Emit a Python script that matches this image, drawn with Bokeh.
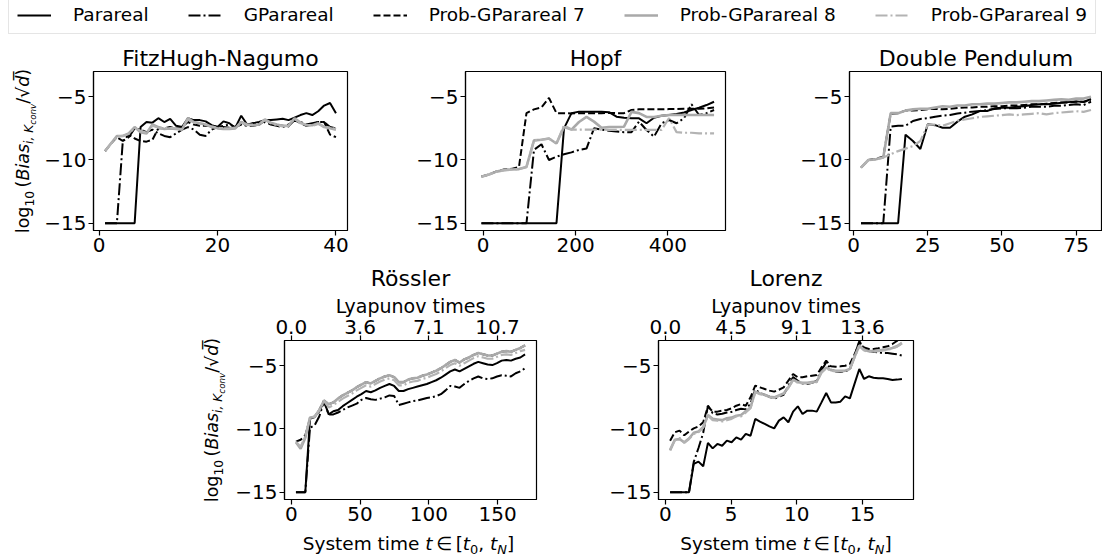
import numpy as np
from bokeh.plotting import figure
from bokeh.models import Range1d, FixedTicker, LinearAxis, Legend, LegendItem, Spacer, Plot
from bokeh.core.properties import value
from bokeh.layouts import column, row
from bokeh.embed import file_html
from bokeh.resources import INLINE

FONT = "DejaVu Sans"
HAS_FRAME_ALIGN = "frame_align" in Plot.properties()

series_names = ["Parareal", "GParareal", "Prob-GParareal 7", "Prob-GParareal 8", "Prob-GParareal 9"]

# ---------------- FitzHugh-Nagumo ----------------
fhn_t = np.arange(1, 41)
fhn_para = [-15, -15, -15, -15, -15, -15, -7.4, -7.0, -7.05, -6.7,
            -7.0, -6.75, -7.3, -7.4, -6.7, -6.85, -6.85, -6.95, -7.25, -7.4,
            -6.95, -7.1, -7.45, -6.5, -7.2, -7.1, -7.0, -6.85, -6.85, -6.8,
            -6.75, -6.85, -6.65, -6.45, -6.3, -6.45, -6.15, -5.7, -5.5, -6.3]
fhn_gp = [-15, -15, -15, -8.5, -8.2, -7.5, -7.6, -7.8, -7.6, -7.9,
          -8.1, -8.2, -7.9, -7.6, -7.4, -7.6, -8.0, -8.1, -7.6, -7.4,
          -7.3, -7.2, -7.4, -7.2, -7.3, -7.1, -7.2, -7.0, -7.2, -7.3,
          -7.4, -7.2, -6.9, -7.0, -7.2, -7.1, -7.0, -7.0, -7.4, -7.5]
fhn_p7 = [-9.3, -8.7, -8.2, -8.5, -8.0, -8.3, -8.5, -8.55, -8.4, -7.5,
          -7.5, -7.4, -7.5, -7.4, -7.0, -7.2, -7.3, -7.3, -7.3, -7.4,
          -7.4, -7.45, -7.4, -7.0, -7.3, -7.3, -7.2, -6.9, -7.1, -7.25,
          -7.3, -7.35, -6.8, -7.1, -7.3, -7.2, -7.0, -7.0, -8.0, -8.2]
fhn_p8 = [-9.3, -8.7, -8.1, -8.1, -7.9, -7.4, -7.8, -7.9, -7.2, -7.4,
          -7.55, -7.5, -7.55, -7.6, -6.7, -7.0, -7.1, -7.2, -7.4, -7.5,
          -7.55, -7.55, -7.5, -7.0, -7.2, -7.25, -7.2, -6.8, -7.05, -7.2,
          -7.3, -7.3, -6.7, -7.05, -7.25, -7.25, -7.1, -7.4, -7.5, -7.6]
fhn_p9 = [-9.3, -8.7, -8.15, -8.1, -7.95, -7.45, -7.7, -7.85, -7.3, -7.45,
          -7.5, -7.45, -7.5, -7.55, -6.8, -7.05, -7.15, -7.2, -7.35, -7.45,
          -7.5, -7.5, -7.45, -7.05, -7.25, -7.2, -7.15, -6.85, -7.1, -7.25,
          -7.35, -7.3, -6.75, -7.1, -7.2, -7.3, -7.15, -7.35, -7.45, -7.55]

# ---------------- Hopf ----------------
hopf_t = np.linspace(-20, 500, 33)[1:]
hopf_para = [-15] * 11 + [-7.5, -6.3, -6.18, -6.18, -6.18, -6.18, -6.22, -6.58, -6.66, -6.7,
                          -6.71, -7.1, -6.66, -6.5, -6.45, -6.37, -6.25, -6.05, -5.87, -5.66, -5.4]
hopf_gp = [-15] * 7 + [-9.2, -8.76, -10.0, -9.74, -9.55, -9.4, -9.2, -9.1, -7.5, -7.6,
                       -7.7, -7.75, -7.8, -7.8, -6.97, -7.63, -8.16, -7.1, -6.84, -7.1,
                       -6.7, -5.6, -6.45, -6.3, -6.05]
hopf_p7 = [-11.3, -11.15, -10.9, -10.75, -10.7, -10.55, -6.3, -6.0, -5.85, -5.1,
           -6.3, -6.3, -6.32, -6.3, -6.3, -6.3, -6.3, -6.28, -6.3, -6.3,
           -6.05, -6.0, -6.0, -6.0, -6.0, -5.98, -5.98, -5.96, -5.95, -5.95, -5.92, -5.85]
hopf_p8 = [-11.32, -11.15, -10.92, -10.8, -10.75, -10.72, -10.55, -8.45, -8.4, -8.3,
           -8.7, -7.4, -7.6, -7.0, -6.6, -6.97, -7.45, -7.4, -7.4, -7.37,
           -6.2, -6.3, -6.6, -6.6, -6.5, -6.45, -6.45, -6.45, -6.45, -6.45, -6.45, -6.45]
hopf_p9 = [-11.32, -11.15, -10.92, -10.8, -10.75, -10.72, -10.55, -8.45, -8.4, -8.3,
           -8.7, -7.25, -7.6, -7.6, -7.6, -7.6, -7.6, -7.62, -7.62, -7.62,
           -7.62, -7.62, -7.62, -7.62, -7.62, -6.7, -7.8, -7.85, -7.85, -7.9, -7.9, -7.9]

# ---------------- Double Pendulum ----------------
dp_t = np.linspace(0, 80, 33)[1:]
dp_para = [-15] * 6 + [-8.0, -8.5, -9.13, -7.18, -7.25, -7.45, -7.45, -6.97, -6.58, -6.4,
                       -6.13, -6.13, -5.92, -5.87, -5.87, -5.8, -5.75, -5.66, -5.6, -5.6,
                       -5.55, -5.47, -5.42, -5.37, -5.42, -5.18]
dp_gp = [-15] * 4 + [-7.37, -7.3, -7.3, -6.92, -6.76, -6.7, -6.58, -6.5, -6.45, -6.32,
                     -6.26, -6.18, -6.13, -6.05, -5.97, -5.92, -5.92, -5.92, -5.87, -5.79,
                     -5.79, -5.79, -5.72, -5.72, -5.66, -5.6, -5.66, -5.4]
dp_p7 = [-10.6, -10.0, -9.9, -9.75, -6.35, -6.3, -6.1, -6.1, -6.05, -6.0,
         -5.95, -6.0, -5.95, -5.9, -5.85, -5.85, -5.8, -5.8, -5.75, -5.75,
         -5.7, -5.7, -5.65, -5.6, -5.6, -5.55, -5.5, -5.45, -5.45, -5.4, -5.4, -5.3]
dp_p8 = [-10.6, -10.0, -9.95, -9.8, -6.3, -6.3, -6.1, -6.0, -5.95, -5.95,
         -5.85, -5.75, -5.8, -5.7, -5.7, -5.6, -5.6, -5.55, -5.55, -5.5,
         -5.45, -5.45, -5.4, -5.35, -5.35, -5.3, -5.25, -5.2, -5.25, -5.15, -5.15, -5.0]
dp_p9 = [-10.6, -10.0, -9.95, -9.8, -9.55, -9.3, -9.1, -8.9, -8.5, -7.2,
         -7.2, -7.3, -7.1, -6.9, -6.8, -6.7, -6.6, -6.55, -6.5, -6.45,
         -6.4, -6.45, -6.4, -6.35, -6.3, -6.4, -6.3, -6.25, -6.2, -6.15, -6.2, -6.05]

# ---------------- Rossler ----------------
ros_t = np.linspace(0, 170, 51)[1:]
ros_para = [-15, -15, -15, -9.2, -9.0, -8.6, -7.8, -8.85, -8.6, -8.5,
            -8.2, -7.95, -7.7, -7.45, -7.25, -7.0, -7.1, -6.95, -6.75, -6.6,
            -6.45, -6.6, -7.0, -7.0, -6.85, -6.75, -6.65, -6.55, -6.45, -6.3,
            -6.15, -5.95, -5.7, -5.45, -5.3, -5.45, -5.25, -5.05, -4.85, -4.7,
            -4.8, -4.9, -4.95, -4.8, -4.6, -4.55, -4.6, -4.45, -4.35, -4.1]
ros_gp = [-15, -15, -15, -9.9, -9.7, -9.0, -7.8, -8.85, -8.85, -8.7,
          -8.5, -8.3, -8.15, -8.0, -7.7, -7.55, -7.65, -7.7, -7.6, -7.5,
          -7.35, -7.4, -8.1, -8.0, -7.9, -7.8, -7.75, -7.65, -7.55, -7.5,
          -7.4, -7.25, -6.95, -6.6, -6.65, -6.75, -6.45, -6.2, -6.0, -5.85,
          -6.0, -6.05, -6.0, -5.85, -5.75, -5.8, -5.85, -5.6, -5.45, -5.2]
ros_p7 = [-11.0, -10.85, -10.5, -9.2, -9.05, -8.5, -7.75, -8.05, -7.9, -7.6,
          -7.35, -7.15, -6.95, -6.7, -6.5, -6.3, -6.4, -6.2, -6.0, -5.85,
          -5.75, -5.9, -6.3, -6.3, -6.1, -6.0, -5.95, -5.8, -5.7, -5.55,
          -5.4, -5.2, -4.95, -4.7, -4.55, -4.75, -4.5, -4.35, -4.15, -4.0,
          -4.1, -4.2, -4.2, -4.05, -3.9, -3.85, -3.9, -3.75, -3.6, -3.4]
ros_p8 = [-11.05, -11.55, -10.7, -9.1, -9.05, -8.5, -7.75, -8.05, -7.9, -7.6,
          -7.35, -7.15, -6.95, -6.7, -6.5, -6.3, -6.4, -6.2, -6.0, -5.85,
          -5.75, -5.9, -6.3, -6.3, -6.1, -6.0, -5.95, -5.8, -5.7, -5.55,
          -5.4, -5.2, -4.95, -4.7, -4.55, -4.75, -4.5, -4.35, -4.15, -4.0,
          -4.1, -4.2, -4.2, -4.05, -3.9, -3.85, -3.9, -3.75, -3.6, -3.4]
ros_p9 = [-11.0, -11.4, -10.6, -9.1, -9.0, -8.5, -7.8, -8.3, -8.1, -7.85,
          -7.6, -7.4, -7.2, -6.95, -6.75, -6.55, -6.65, -6.45, -6.25, -6.1,
          -6.0, -6.15, -6.55, -6.55, -6.35, -6.25, -6.2, -6.05, -5.95, -5.8,
          -5.65, -5.45, -5.2, -4.95, -4.8, -5.0, -4.8, -4.6, -4.4, -4.25,
          -4.35, -4.45, -4.45, -4.3, -4.15, -4.1, -4.15, -4.0, -3.85, -3.75]

# ---------------- Lorenz ----------------
lor_t = np.linspace(0, 18, 51)[1:]
lor_para = [-15, -15, -15, -15, -15, -12.76, -12.58, -12.95, -11.1, -11.53,
            -11.18, -11.32, -10.92, -11.05, -10.66, -10.84, -10.39, -10.53, -9.21, -9.42,
            -9.6, -9.79, -9.95, -9.34, -9.08, -9.47, -8.63, -8.21, -8.82, -8.55,
            -8.55, -8.63, -7.9, -7.16, -7.9, -7.9, -7.84, -7.42, -7.58, -6.42,
            -5.26, -6.05, -5.84, -5.95, -6.0, -6.0, -6.05, -6.13, -6.1, -6.05]
lor_gp = [-15, -15, -15, -15, -15, -12.6, -11.5, -10.3, -8.15, -8.75,
          -8.85, -8.8, -8.7, -8.65, -8.5, -8.4, -8.45, -8.0, -6.9, -7.15,
          -7.3, -7.45, -7.6, -7.45, -7.3, -6.6, -5.9, -6.2, -6.4, -6.45,
          -6.35, -6.2, -5.35, -4.75, -5.3, -5.45, -5.5, -5.45, -5.3, -4.2,
          -3.05, -3.65, -3.85, -3.9, -3.95, -4.0, -4.0, -4.05, -4.1, -4.2]
lor_p7 = [-10.92, -10.26, -10.13, -10.5, -10.2, -9.95, -9.8, -9.47, -8.21, -8.63,
          -8.63, -8.55, -8.5, -8.37, -8.16, -8.03, -8.16, -7.5, -6.58, -6.71,
          -6.84, -6.97, -7.05, -6.9, -6.71, -6.18, -5.66, -5.92, -5.92, -5.84,
          -5.79, -5.74, -5.13, -4.6, -5.05, -5.08, -5.05, -5.0, -4.87, -4.1,
          -3.16, -3.55, -3.68, -3.68, -3.63, -3.55, -3.47, -3.29, -3.03, -2.9]
lor_p8 = [-11.7, -10.85, -10.8, -11.05, -10.75, -10.3, -10.2, -9.85, -8.9, -9.2,
          -9.25, -9.3, -9.15, -9.1, -8.95, -8.9, -8.6, -8.3, -7.05, -7.2,
          -7.3, -7.45, -7.5, -7.35, -7.2, -6.7, -6.1, -6.3, -6.35, -6.35,
          -6.3, -6.25, -5.5, -5.15, -5.35, -5.4, -5.4, -5.4, -5.25, -4.3,
          -3.4, -3.75, -3.85, -3.85, -3.8, -3.75, -3.7, -3.6, -3.45, -3.2]
lor_p9 = [-11.6, -10.9, -10.7, -11.1, -10.8, -10.4, -10.25, -9.9, -8.95, -9.3,
          -9.35, -9.4, -9.3, -9.2, -9.0, -9.0, -8.7, -8.35, -7.1, -7.25,
          -7.35, -7.5, -7.55, -7.4, -7.25, -6.75, -6.15, -6.35, -6.4, -6.4,
          -6.35, -6.3, -5.55, -5.2, -5.4, -5.45, -5.45, -5.45, -5.3, -4.35,
          -3.45, -3.8, -3.9, -3.9, -3.85, -3.8, -3.75, -3.65, -3.5, -3.25]

y_ticks = [-15, -10, -5]
y_tick_labels = {-15: "\u221215", -10: "\u221210", -5: "\u22125"}
ros_top_ticks = [0, 50, 100, 150]
ros_top_labels = ["0.0", "3.6", "7.1", "10.7"]
lor_top_ticks = [0, 5, 10, 15]
lor_top_labels = ["0.0", "4.5", "9.1", "13.6"]

STYLES = [
    dict(line_color="black", line_width=2.0, line_dash="solid"),
    dict(line_color="black", line_width=2.0, line_dash="12 3 2 3"),
    dict(line_color="black", line_width=2.0, line_dash="7 3"),
    dict(line_color="#a9a9a9", line_width=2.6, line_dash="solid"),
    dict(line_color="#b3b3b3", line_width=2.2, line_dash="12 3 2 3"),
]

# DejaVu Sans advance widths (em) used to compose math-like labels from text pieces
ADV = {" ": 0.318, "(": 0.390, ")": 0.390, ",": 0.318, "/": 0.337, "[": 0.390, "]": 0.390,
       "0": 0.636, "1": 0.636, "B": 0.686, "K": 0.656, "N": 0.748, "S": 0.635,
       "a": 0.613, "c": 0.550, "d": 0.635, "e": 0.615, "g": 0.635, "i": 0.278,
       "l": 0.278, "m": 0.974, "n": 0.634, "o": 0.612, "s": 0.521, "t": 0.392,
       "v": 0.592, "y": 0.592, "\u2208": 0.85, "\u221a": 0.636, "\u2009": 0.2, "\u0305": 0.0}
MID = 0.346  # distance from baseline to the vertical middle of the text box, in em


def text_w(s, size):
    return sum(ADV.get(ch, 0.6) for ch in s) * size


FY = 17.5
YLABEL_PIECES = [("log", FY, False, 0), ("10", 0.7 * FY, False, 0.24 * FY), ("\u2009(", FY, False, 0),
                 ("Bias", FY, True, 0), ("i, K", 0.7 * FY, True, 0.24 * FY),
                 ("conv", 0.5 * FY, True, 0.40 * FY), ("/", FY, False, 0), ("\u221a", FY, False, 0),
                 ("d\u0305", FY, True, 0), (")", FY, False, 0)]
F = 18.5
XLABEL_PIECES = [("System time ", F, False, 0), ("t", F, True, 0), ("\u2009\u2208\u2009[", F, False, 0),
                 ("t", F, True, 0), ("0", 0.7 * F, False, 0.22 * F), (", ", F, False, 0),
                 ("t", F, True, 0), ("N", 0.7 * F, True, 0.22 * F), ("]", F, False, 0)]


def compose(p, pieces, base, center, vertical):
    """Place text pieces (centre-anchored) along a line; figure data units equal pixels."""
    total = sum(text_w(t, s) for t, s, _, _ in pieces)
    pos = center - total / 2.0
    for txt, size, italic, shift in pieces:
        w = text_w(txt, size)
        mid = pos + w / 2.0
        if vertical:
            x, y, ang = base - MID * size + shift, mid, np.pi / 2
        else:
            x, y, ang = mid, base + MID * size - shift, 0.0
        p.text(x=[x], y=[y], text=[txt], angle=ang, text_font=value(FONT),
               text_font_size=value("%.2fpx" % size),
               text_font_style=value("italic" if italic else "normal"),
               text_color="black", text_align="center", text_baseline="middle")
        pos += w


def no_align(f):
    if HAS_FRAME_ALIGN:
        f.frame_align = False


def label_fig(width, height):
    f = figure(width=width, height=height, x_range=Range1d(0, width), y_range=Range1d(0, height),
               output_backend="svg", toolbar_location=None, min_border=0, title=None,
               x_axis_location=None, y_axis_location=None)
    f.grid.visible = False
    f.outline_line_color = None
    no_align(f)
    return f


def style_axis(ax, ticks, labels):
    ax.ticker = FixedTicker(ticks=ticks)
    ax.major_label_overrides = labels
    ax.minor_tick_line_color = None
    ax.major_tick_out = 5
    ax.major_tick_in = 0
    ax.major_tick_line_color = "black"
    ax.major_tick_line_width = 1.2
    ax.axis_line_color = "black"
    ax.axis_line_width = 1.2
    ax.major_label_text_font = FONT
    ax.major_label_text_font_size = "20px"
    ax.major_label_text_color = "black"
    ax.major_label_standoff = 2
    ax.axis_label_text_font = FONT
    ax.axis_label_text_font_size = "19px"
    ax.axis_label_text_font_style = "normal"
    ax.axis_label_text_color = "black"
    ax.axis_label_standoff = 4


def make_panel(title, t, ys, xr, width, height, bl, br, bt, bb, xticks, top=None):
    p = figure(width=width, height=height, x_range=Range1d(*xr), y_range=Range1d(-15.57, -3.01),
               output_backend="svg", toolbar_location=None,
               min_border_left=bl, min_border_right=br, min_border_top=bt, min_border_bottom=bb)
    no_align(p)
    p.grid.visible = False
    p.outline_line_color = "black"
    p.outline_line_width = 1.2
    p.background_fill_color = "white"
    p.border_fill_color = "white"
    p.title.text = title
    p.title.align = "center"
    p.title.text_font = FONT
    p.title.text_font_size = "22px"
    p.title.text_font_style = "normal"
    p.title.text_color = "black"
    p.title.standoff = 2
    style_axis(p.xaxis[0], xticks, {})
    style_axis(p.yaxis[0], y_ticks, y_tick_labels)
    if top is not None:
        tt, tl = top
        ax = LinearAxis()
        style_axis(ax, tt, {k: v for k, v in zip(tt, tl)})
        ax.axis_label = "Lyapunov times"
        ax.axis_label_standoff = 0
        p.add_layout(ax, "above")
    for y, st in zip(ys, STYLES):
        p.line(x=list(t), y=y, **st)
    return p


# ---- top row ----
yl1 = label_fig(38, 224)
compose(yl1, YLABEL_PIECES, 29, 109.5, True)
f1 = make_panel("FitzHugh-Nagumo", fhn_t, [fhn_para, fhn_gp, fhn_p7, fhn_p8, fhn_p9],
                (-0.95, 41.95), 342, 224, 55, 33, 35, 30, [0, 20, 40])
f2 = make_panel("Hopf", hopf_t, [hopf_para, hopf_gp, hopf_p7, hopf_p8, hopf_p9],
                (-38.3, 524.8), 380, 224, 85, 35, 35, 30, [0, 200, 400])
f3 = make_panel("Double Pendulum", dp_t, [dp_para, dp_gp, dp_p7, dp_p8, dp_p9],
                (-1.375, 83.875), 342, 224, 89, 0, 35, 30, [0, 25, 50, 75])

# ---- bottom row ----
yl2 = label_fig(42, 270)
compose(yl2, YLABEL_PIECES, 28, 110.5, True)
f4 = make_panel("R\u00f6ssler", ros_t, [ros_para, ros_gp, ros_p7, ros_p8, ros_p9],
                (-4.93, 178.33), 368, 270, 48, 64, 80, 31, [0, 50, 100, 150],
                top=(ros_top_ticks, ros_top_labels))
f5 = make_panel("Lorenz", lor_t, [lor_para, lor_gp, lor_p7, lor_p8, lor_p9],
                (-0.522, 18.882), 502, 270, 58, 189, 80, 31, [0, 5, 10, 15],
                top=(lor_top_ticks, lor_top_labels))
xl = label_fig(1102, 27)
compose(xl, XLABEL_PIECES, 8, 408, False)
compose(xl, XLABEL_PIECES, 8, 785.5, False)

# ---- legend strip ----
leg = label_fig(1102, 36)
items = []
for name, st in zip(series_names, STYLES):
    r = leg.line(x=[2000, 2001], y=[2000, 2001], **st)
    items.append(LegendItem(label=name, renderers=[r]))
legend = Legend(items=items, orientation="horizontal", location=(8, 2),
                spacing=39, glyph_width=34, glyph_height=16, label_height=16,
                label_standoff=22, padding=8, margin=0,
                label_text_font=FONT, label_text_font_size="18.5px", label_text_color="black",
                border_line_color="#cccccc", border_line_width=1,
                background_fill_color="white", background_fill_alpha=1.0)
leg.add_layout(legend)

layout = column(leg,
                row(yl1, f1, f2, f3),
                row(Spacer(width=190, height=270), yl2, f4, f5),
                xl)
open("out.html", "w").write(file_html(layout, INLINE))
